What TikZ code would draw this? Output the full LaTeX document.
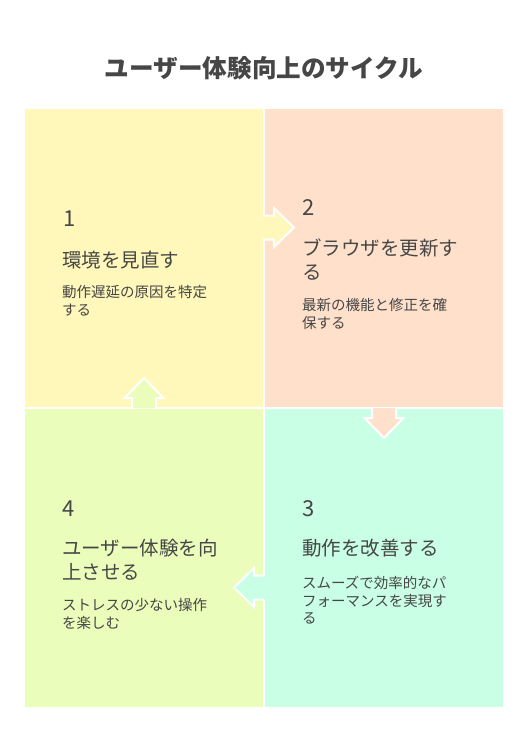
\documentclass[tikz,border=0pt]{standalone}
\usepackage{fontspec}
\setmainfont{Noto Sans CJK JP}
\definecolor{qone}{HTML}{FFF8BA}
\definecolor{qtwo}{HTML}{FFE1CB}
\definecolor{qthree}{HTML}{C9FFE4}
\definecolor{qfour}{HTML}{EAFDBA}
\definecolor{ink}{HTML}{464646}
\tikzset{
  quad/.style={draw=none},
  arrline/.style={draw=white,line width=2pt,line join=miter},
  numtxt/.style={anchor=base west,inner sep=0pt,text=ink,font=\fontsize{22}{24}\selectfont},
  headtxt/.style={anchor=base west,inner sep=0pt,text=ink,font=\fontsize{19.5}{24}\selectfont},
  desctxt/.style={anchor=base west,inner sep=0pt,text=ink,font=\fontsize{14.5}{17}\selectfont},
}
\begin{document}
\begin{tikzpicture}[x=1pt,y=-1pt]
\useasboundingbox (0,0) rectangle (528,756);
\fill[white] (0,0) rectangle (528,756);
% quadrants
\fill[qone] (25,109) rectangle (263,407);
\fill[qtwo] (265,109) rectangle (503,407);
\fill[qthree] (265,409) rectangle (503,707);
\fill[qfour] (25,409) rectangle (263,707);
% arrows
\fill[qone] (263,215.5) -- (274,215.5) -- (274,208) -- (294,227.5) -- (274,247) -- (274,239.5) -- (263,239.5) -- cycle;
\draw[arrline] (263,215.5) -- (274,215.5) -- (274,208) -- (294,227.5) -- (274,247) -- (274,239.5) -- (263,239.5);
\fill[qtwo] (372,408) -- (372,418) -- (364.5,418) -- (384,438) -- (403.5,418) -- (396,418) -- (396,408) -- cycle;
\draw[arrline] (372,408) -- (372,418) -- (364.5,418) -- (384,438) -- (403.5,418) -- (396,418) -- (396,408);
\fill[qthree] (265,575.5) -- (254,575.5) -- (254,568) -- (234,587.5) -- (254,607) -- (254,599.5) -- (265,599.5) -- cycle;
\draw[arrline] (264,575.5) -- (254,575.5) -- (254,568) -- (234,587.5) -- (254,607) -- (254,599.5) -- (264,599.5);
\fill[qfour] (132,408) -- (132,398) -- (124.5,398) -- (144,378) -- (163.5,398) -- (156,398) -- (156,408) -- cycle;
\draw[arrline] (132,408) -- (132,398) -- (124.5,398) -- (144,378) -- (163.5,398) -- (156,398) -- (156,408);
% title
\node[anchor=base,inner sep=0pt,text=ink,font=\fontsize{24.6}{28}\selectfont\bfseries] (title) at (264,77) {ユーザー体験向上のサイクル};
% quadrant 1
\node[numtxt] (n1) at (63,226) {1};
\node[headtxt] (h1) at (62,267) {環境を見直す};
\node[desctxt] (d1a) at (62,297.5) {動作遅延の原因を特定};
\node[desctxt] (d1b) at (62,315) {する};
% quadrant 2
\node[numtxt] (n2) at (302,215) {2};
\node[headtxt] (h2a) at (302,255) {ブラウザを更新す};
\node[headtxt] (h2b) at (302,279.5) {る};
\node[desctxt] (d2a) at (302,310.5) {最新の機能と修正を確};
\node[desctxt] (d2b) at (302,328) {保する};
% quadrant 3
\node[numtxt] (n3) at (302,516) {3};
\node[headtxt] (h3) at (302,555) {動作を改善する};
\node[desctxt] (d3a) at (302,588.5) {スムーズで効率的なパ};
\node[desctxt] (d3b) at (302,606) {フォーマンスを実現す};
\node[desctxt] (d3c) at (302,623.5) {る};
% quadrant 4
\node[numtxt] (n4) at (62,516) {4};
\node[headtxt] (h4a) at (62,555) {ユーザー体験を向};
\node[headtxt] (h4b) at (62,579.5) {上させる};
\node[desctxt] (d4a) at (62,610.5) {ストレスの少ない操作};
\node[desctxt] (d4b) at (62,628) {を楽しむ};
\end{tikzpicture}
\end{document}
